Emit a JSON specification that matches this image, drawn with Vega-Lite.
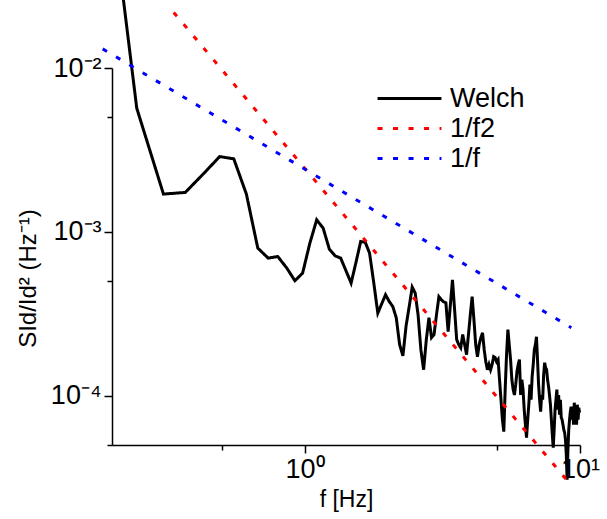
{
  "$schema": "https://vega.github.io/schema/vega-lite/v6.json",
  "width": 468,
  "height": 377,
  "autosize": {"type": "none"},
  "padding": {"left": 112, "top": 68, "right": 27, "bottom": 74},
  "background": "white",
  "config": {
    "view": {"stroke": null},
    "font": "Liberation Sans",
    "axis": {
      "domainColor": "black", "domainWidth": 1.5,
      "tickColor": "black", "tickWidth": 1.5,
      "labelColor": "black", "labelFontSize": 27, "labelFont": "Liberation Sans",
      "titleColor": "black", "titleFontWeight": "normal", "titleFontSize": 23, "titleFont": "Liberation Sans",
      "grid": false
    }
  },
  "datasets": {
    "welch": [
      {"f":0.1845,"v":0.29,"s":"Welch"},
      {"f":0.246,"v":0.00568,"s":"Welch"},
      {"f":0.3075,"v":0.0017,"s":"Welch"},
      {"f":0.369,"v":0.00174,"s":"Welch"},
      {"f":0.4305,"v":0.00227,"s":"Welch"},
      {"f":0.492,"v":0.00288,"s":"Welch"},
      {"f":0.5535,"v":0.00279,"s":"Welch"},
      {"f":0.615,"v":0.0017,"s":"Welch"},
      {"f":0.6765,"v":0.000796,"s":"Welch"},
      {"f":0.738,"v":0.000691,"s":"Welch"},
      {"f":0.7995,"v":0.000707,"s":"Welch"},
      {"f":0.861,"v":0.000603,"s":"Welch"},
      {"f":0.9225,"v":0.000503,"s":"Welch"},
      {"f":0.984,"v":0.00056,"s":"Welch"},
      {"f":1.0455,"v":0.000853,"s":"Welch"},
      {"f":1.107,"v":0.001184,"s":"Welch"},
      {"f":1.1685,"v":0.001053,"s":"Welch"},
      {"f":1.23,"v":0.000785,"s":"Welch"},
      {"f":1.2915,"v":0.000714,"s":"Welch"},
      {"f":1.353,"v":0.000691,"s":"Welch"},
      {"f":1.4145,"v":0.000578,"s":"Welch"},
      {"f":1.476,"v":0.000487,"s":"Welch"},
      {"f":1.5375,"v":0.000652,"s":"Welch"},
      {"f":1.599,"v":0.000873,"s":"Welch"},
      {"f":1.6605,"v":0.000865,"s":"Welch"},
      {"f":1.722,"v":0.000742,"s":"Welch"},
      {"f":1.7835,"v":0.000489,"s":"Welch"},
      {"f":1.845,"v":0.000319,"s":"Welch"},
      {"f":1.9065,"v":0.000364,"s":"Welch"},
      {"f":1.968,"v":0.000413,"s":"Welch"},
      {"f":2.0295,"v":0.000376,"s":"Welch"},
      {"f":2.091,"v":0.00035,"s":"Welch"},
      {"f":2.1525,"v":0.000299,"s":"Welch"},
      {"f":2.214,"v":0.000205,"s":"Welch"},
      {"f":2.2755,"v":0.000175,"s":"Welch"},
      {"f":2.337,"v":0.000267,"s":"Welch"},
      {"f":2.3985,"v":0.00035,"s":"Welch"},
      {"f":2.46,"v":0.00046,"s":"Welch"},
      {"f":2.5215,"v":0.000423,"s":"Welch"},
      {"f":2.583,"v":0.000312,"s":"Welch"},
      {"f":2.6445,"v":0.000191,"s":"Welch"},
      {"f":2.706,"v":0.000144,"s":"Welch"},
      {"f":2.7675,"v":0.00022,"s":"Welch"},
      {"f":2.829,"v":0.000299,"s":"Welch"},
      {"f":2.8905,"v":0.000226,"s":"Welch"},
      {"f":2.952,"v":0.000236,"s":"Welch"},
      {"f":3.0135,"v":0.000312,"s":"Welch"},
      {"f":3.075,"v":0.000402,"s":"Welch"},
      {"f":3.1365,"v":0.000385,"s":"Welch"},
      {"f":3.198,"v":0.000374,"s":"Welch"},
      {"f":3.2595,"v":0.000369,"s":"Welch"},
      {"f":3.321,"v":0.000246,"s":"Welch"},
      {"f":3.3825,"v":0.000354,"s":"Welch"},
      {"f":3.444,"v":0.00051,"s":"Welch"},
      {"f":3.5055,"v":0.000335,"s":"Welch"},
      {"f":3.567,"v":0.00022,"s":"Welch"},
      {"f":3.6285,"v":0.000205,"s":"Welch"},
      {"f":3.69,"v":0.000196,"s":"Welch"},
      {"f":3.7515,"v":0.000236,"s":"Welch"},
      {"f":3.813,"v":0.000205,"s":"Welch"},
      {"f":3.8745,"v":0.000178,"s":"Welch"},
      {"f":3.936,"v":0.000236,"s":"Welch"},
      {"f":3.9975,"v":0.000312,"s":"Welch"},
      {"f":4.059,"v":0.000402,"s":"Welch"},
      {"f":4.1205,"v":0.000291,"s":"Welch"},
      {"f":4.182,"v":0.000205,"s":"Welch"},
      {"f":4.2435,"v":0.000173,"s":"Welch"},
      {"f":4.305,"v":0.000205,"s":"Welch"},
      {"f":4.3665,"v":0.000226,"s":"Welch"},
      {"f":4.428,"v":0.000242,"s":"Welch"},
      {"f":4.4895,"v":0.000191,"s":"Welch"},
      {"f":4.551,"v":0.000161,"s":"Welch"},
      {"f":4.6125,"v":0.000144,"s":"Welch"},
      {"f":4.674,"v":0.000155,"s":"Welch"},
      {"f":4.7355,"v":0.000144,"s":"Welch"},
      {"f":4.797,"v":0.000155,"s":"Welch"},
      {"f":4.8585,"v":0.000173,"s":"Welch"},
      {"f":4.92,"v":0.000171,"s":"Welch"},
      {"f":4.9815,"v":0.000161,"s":"Welch"},
      {"f":5.043,"v":0.000166,"s":"Welch"},
      {"f":5.1045,"v":0.000125,"s":"Welch"},
      {"f":5.166,"v":0.0000945,"s":"Welch"},
      {"f":5.2275,"v":0.0000714,"s":"Welch"},
      {"f":5.289,"v":0.0000603,"s":"Welch"},
      {"f":5.3505,"v":0.000109,"s":"Welch"},
      {"f":5.412,"v":0.000178,"s":"Welch"},
      {"f":5.4735,"v":0.000253,"s":"Welch"},
      {"f":5.535,"v":0.000205,"s":"Welch"},
      {"f":5.5965,"v":0.000166,"s":"Welch"},
      {"f":5.658,"v":0.000125,"s":"Welch"},
      {"f":5.7195,"v":0.000109,"s":"Welch"},
      {"f":5.781,"v":0.000101,"s":"Welch"},
      {"f":5.8425,"v":0.000117,"s":"Welch"},
      {"f":5.904,"v":0.00014,"s":"Welch"},
      {"f":5.9655,"v":0.000155,"s":"Welch"},
      {"f":6.027,"v":0.000166,"s":"Welch"},
      {"f":6.0885,"v":0.000101,"s":"Welch"},
      {"f":6.15,"v":0.000125,"s":"Welch"},
      {"f":6.2115,"v":0.000109,"s":"Welch"},
      {"f":6.273,"v":0.0000822,"s":"Welch"},
      {"f":6.3345,"v":0.0000666,"s":"Welch"},
      {"f":6.396,"v":0.0000555,"s":"Welch"},
      {"f":6.4575,"v":0.0000714,"s":"Welch"},
      {"f":6.519,"v":0.0000881,"s":"Welch"},
      {"f":6.5805,"v":0.000117,"s":"Welch"},
      {"f":6.642,"v":0.0000945,"s":"Welch"},
      {"f":6.7035,"v":0.000131,"s":"Welch"},
      {"f":6.765,"v":0.000155,"s":"Welch"},
      {"f":6.8265,"v":0.000191,"s":"Welch"},
      {"f":6.888,"v":0.000205,"s":"Welch"},
      {"f":6.9495,"v":0.000229,"s":"Welch"},
      {"f":7.011,"v":0.000166,"s":"Welch"},
      {"f":7.0725,"v":0.000117,"s":"Welch"},
      {"f":7.134,"v":0.0000945,"s":"Welch"},
      {"f":7.1955,"v":0.0000799,"s":"Welch"},
      {"f":7.257,"v":0.000101,"s":"Welch"},
      {"f":7.3185,"v":0.0000945,"s":"Welch"},
      {"f":7.38,"v":0.000134,"s":"Welch"},
      {"f":7.4415,"v":0.000159,"s":"Welch"},
      {"f":7.503,"v":0.000148,"s":"Welch"},
      {"f":7.5645,"v":0.000144,"s":"Welch"},
      {"f":7.626,"v":0.000125,"s":"Welch"},
      {"f":7.6875,"v":0.000114,"s":"Welch"},
      {"f":7.749,"v":0.000101,"s":"Welch"},
      {"f":7.8105,"v":0.0000881,"s":"Welch"},
      {"f":7.872,"v":0.0000714,"s":"Welch"},
      {"f":7.9335,"v":0.0000578,"s":"Welch"},
      {"f":7.995,"v":0.0000482,"s":"Welch"},
      {"f":8.0565,"v":0.000062,"s":"Welch"},
      {"f":8.118,"v":0.0000822,"s":"Welch"},
      {"f":8.1795,"v":0.0000945,"s":"Welch"},
      {"f":8.241,"v":0.000109,"s":"Welch"},
      {"f":8.3025,"v":0.0000822,"s":"Welch"},
      {"f":8.364,"v":0.000101,"s":"Welch"},
      {"f":8.4255,"v":0.0000766,"s":"Welch"},
      {"f":8.487,"v":0.0000945,"s":"Welch"},
      {"f":8.5485,"v":0.0000735,"s":"Welch"},
      {"f":8.61,"v":0.0000714,"s":"Welch"},
      {"f":8.6715,"v":0.0000666,"s":"Welch"},
      {"f":8.733,"v":0.000062,"s":"Welch"},
      {"f":8.7945,"v":0.0000595,"s":"Welch"},
      {"f":8.856,"v":0.0000539,"s":"Welch"},
      {"f":8.9175,"v":0.0000437,"s":"Welch"},
      {"f":8.979,"v":0.0000307,"s":"Welch"},
      {"f":9.0405,"v":0.0000469,"s":"Welch"},
      {"f":9.102,"v":0.000062,"s":"Welch"},
      {"f":9.1635,"v":0.0000714,"s":"Welch"},
      {"f":9.225,"v":0.0000799,"s":"Welch"},
      {"f":9.2865,"v":0.0000857,"s":"Welch"},
      {"f":9.348,"v":0.0000714,"s":"Welch"},
      {"f":9.4095,"v":0.0000845,"s":"Welch"},
      {"f":9.471,"v":0.0000666,"s":"Welch"},
      {"f":9.5325,"v":0.0000906,"s":"Welch"},
      {"f":9.594,"v":0.0000766,"s":"Welch"},
      {"f":9.6555,"v":0.0000822,"s":"Welch"},
      {"f":9.717,"v":0.0000666,"s":"Welch"},
      {"f":9.7785,"v":0.0000881,"s":"Welch"},
      {"f":9.84,"v":0.0000714,"s":"Welch"},
      {"f":9.9015,"v":0.0000845,"s":"Welch"},
      {"f":9.963,"v":0.0000788,"s":"Welch"}
    ],
    "fits": [
      {"f":0.335,"v":0.02183,"s":"1/f2"},
      {"f":9.4,"v":0.00002773,"s":"1/f2"},
      {"f":0.185,"v":0.01308,"s":"1/f"},
      {"f":9.3,"v":0.00026,"s":"1/f"}
    ]
  },
  "encoding": {
    "x": {
      "field": "f", "type": "quantitative",
      "scale": {"type": "log", "domain": [0.2, 10]},
      "axis": {
        "values": [0.5, 1, 5, 10],
        "labelExpr": "datum.value == 1 ? '10⁰' : datum.value == 10 ? '10¹' : ''",
        "labelFlush": false, "labelOverlap": false,
        "tickSize": {"condition": {"test": "datum.value == 1 || datum.value == 10", "value": 8}, "value": 5},
        "labelPadding": 3,
        "title": "f [Hz]", "titlePadding": 6
      }
    },
    "y": {
      "field": "v", "type": "quantitative",
      "scale": {"type": "log", "domain": [0.00005, 0.01]},
      "axis": {
        "values": [0.01, 0.005, 0.001, 0.0005, 0.0001, 0.00005],
        "labelExpr": "datum.value == 0.01 ? '10⁻²' : datum.value == 0.001 ? '10⁻³' : datum.value == 0.0001 ? '10⁻⁴' : ''",
        "labelFlush": false, "labelOverlap": false,
        "tickSize": {"condition": {"test": "datum.value == 0.01 || datum.value == 0.001 || datum.value == 0.0001", "value": 8}, "value": 5},
        "labelPadding": 3,
        "title": "SId/Id² (Hz⁻¹)", "titlePadding": 10, "titleY": 210, "titleFontSize": 24
      }
    },
    "color": {
      "field": "s", "type": "nominal",
      "scale": {"domain": ["Welch", "1/f2", "1/f"], "range": ["#000000", "#ff0000", "#0000ff"]},
      "legend": {"title": null, "orient": "none", "legendX": 281, "legendY": 14, "symbolType": "M-2.13,0H2.13", "symbolSize": 900, "symbolStrokeWidth": 3, "labelFontSize": 27, "labelColor": "black", "labelOffset": 24, "rowPadding": 0, "padding": 0, "labelFont": "Liberation Sans"}
    },
    "strokeDash": {
      "field": "s", "type": "nominal",
      "scale": {"domain": ["Welch", "1/f2", "1/f"], "range": [[1, 0], [5, 10.5], [5, 10.5]]},
      "legend": {"title": null, "orient": "none", "legendX": 281, "legendY": 14, "symbolType": "M-2.13,0H2.13", "symbolSize": 900, "symbolStrokeWidth": 3, "labelFontSize": 27, "labelColor": "black", "labelOffset": 24, "rowPadding": 0, "padding": 0, "labelFont": "Liberation Sans"}
    }
  },
  "layer": [
    {"data": {"name": "welch"}, "mark": {"type": "line", "clip": false, "strokeWidth": 3}},
    {"data": {"name": "fits"}, "mark": {"type": "line", "clip": false, "strokeWidth": 3}}
  ]
}
